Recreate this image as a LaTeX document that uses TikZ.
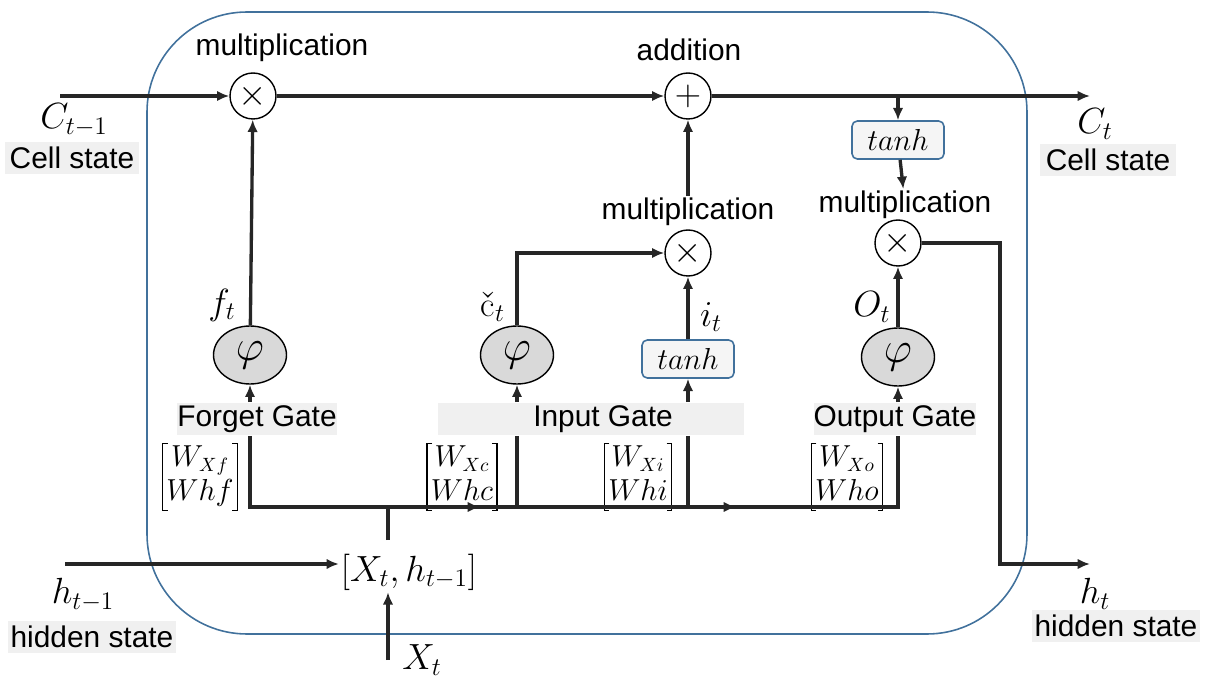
\documentclass[tikz,border=0pt]{standalone}
\usepackage{amsmath}
\usepackage{fontspec}
\newfontfamily\sansfont{Liberation Sans}
\usepackage{tikz}
\usetikzlibrary{shapes.geometric,arrows.meta,calc}
\definecolor{cellblue}{RGB}{65,113,156}

\tikzset{
    wire/.style={line width=1.9pt, draw=black!85},
    op/.style={circle, draw, line width=0.8pt, minimum size=0.92cm, inner sep=0pt, font=\fontsize{20}{20}\selectfont},
    act/.style={ellipse, draw, line width=0.8pt, fill=gray!30, minimum width=1.46cm, minimum height=1.16cm, inner sep=0pt, font=\fontsize{26}{26}\selectfont},
    tanhbox/.style={rectangle, rounded corners=3pt, draw=cellblue, line width=0.9pt, fill=gray!8, minimum width=1.84cm, minimum height=0.76cm, inner sep=0pt, font=\fontsize{19}{19}\selectfont},
    lbl/.style={inner sep=1pt, font=\sansfont\fontsize{17}{17}\selectfont},
    tag/.style={fill=gray!12, inner sep=0pt, minimum height=0.66cm, font=\sansfont\fontsize{17}{17}\selectfont},
    mlbl/.style={inner sep=1pt, font=\fontsize{20}{24}\selectfont},
    % weight pair with square brackets drawn as paths
    wmat/.style={inner xsep=2pt, inner ysep=0pt, font=\fontsize{16}{19}\selectfont,
        append after command={\pgfextra{
            \draw[line width=0.7pt] ($(\tikzlastnode.north west)+(5,0)$) -- (\tikzlastnode.north west)
                -- (\tikzlastnode.south west) -- ($(\tikzlastnode.south west)+(5,0)$);
            \draw[line width=0.7pt] ($(\tikzlastnode.north east)+(-5,0)$) -- (\tikzlastnode.north east)
                -- (\tikzlastnode.south east) -- ($(\tikzlastnode.south east)+(-5,0)$);}}}
}

\begin{document}
\begin{tikzpicture}[x=0.02cm, y=-0.02cm, >={Latex[length=7pt,width=6pt]}]
    \useasboundingbox (0,0) rectangle (1205,679);

    % LSTM cell frame
    \draw[cellblue, line width=0.9pt, rounded corners=2cm] (147,12) rectangle (1027,634);

    % Cell state line
    \coordinate (cin) at (60,96);
    \coordinate (tap) at (898,96);
    \coordinate (cout) at (1090,96);
    \node[op] (multF) at (253,96) {$\times$};
    \node[op] (add) at (688,96) {$+$};
    \node[lbl] (multFlab) at (282,48) {multiplication};
    \node[lbl] (addlab) at (689,50) {addition};
    \draw[wire,->] (cin) -- (multF);
    \draw[wire,->] (multF) -- (add);
    \draw[wire,->] (add) -- (cout);

    \node[mlbl] (cprev) at (74,120) {$C_{t-1}$};
    \node[tag, minimum width=2.7cm] (cprevtag) at (72,158) {Cell state};
    \node[mlbl] (cnext) at (1095,124) {$C_t$};
    \node[tag, minimum width=2.74cm] (cnexttag) at (1108,160) {Cell state};

    % Forget gate
    \node[act] (phiF) at (250,355) {$\varphi$};
    \node[mlbl] (flab) at (222,305) {$f_t$};
    \node[tag, minimum width=3.2cm] (gateF) at (257,419) {Forget Gate};
    \node[wmat] (wF) at (200,477) {$\begin{matrix} W_{Xf}\\ Whf\end{matrix}$};
    \draw[wire,->] (phiF) -- (multF);
    \draw[wire,->] (gateF.north -| phiF) -- (phiF);

    % Input gate
    \node[act] (phiC) at (517,355) {$\varphi$};
    \node[mlbl] (clab) at (493,307) {\v{c}$_t$};
    \node[tanhbox] (tanhI) at (688,359) {$tanh$};
    \node[mlbl] (ilab) at (711,317) {$i_t$};
    \node[op] (multI) at (688,253) {$\times$};
    \node[lbl] (multIlab) at (688,212) {multiplication};
    \node[tag, minimum width=6.14cm] (gateI) at (591,419) {\hspace*{0.48cm}Input Gate};
    \node[wmat] (wC) at (462,477) {$\begin{matrix} W_{Xc}\\ Whc\end{matrix}$};
    \node[wmat] (wI) at (638,477) {$\begin{matrix} W_{Xi}\\ Whi\end{matrix}$};
    \draw[wire,->] (phiC) |- (multI);
    \draw[wire,->] (tanhI) -- (multI);
    \draw[wire,->] (multIlab) -- (add);
    \draw[wire,->] (gateI.north -| phiC) -- (phiC);
    \draw[wire,->] (gateI.north -| tanhI) -- (tanhI);

    % Output gate
    \node[tanhbox] (tanhC) at (898,140) {$tanh$};
    \node[lbl] (multOlab) at (905,205) {multiplication};
    \node[op] (multO) at (898,243) {$\times$};
    \node[act] (phiO) at (898,357) {$\varphi$};
    \node[mlbl] (olab) at (872,307) {$O_t$};
    \node[tag, minimum width=3.18cm] (gateO) at (895,419) {Output Gate};
    \node[wmat] (wO) at (847,477) {$\begin{matrix} W_{Xo}\\ Who\end{matrix}$};
    \draw[wire,->] (tap) -- (tanhC);
    \draw[wire,->] (tanhC) -- (multOlab);
    \draw[wire,->] (phiO) -- (multO);
    \draw[wire,->] (gateO.north -| phiO) -- (phiO);

    % Hidden state output
    \coordinate (hturn) at (1000,564);
    \coordinate (hout) at (1090,564);
    \draw[wire,->] (multO) -| (hturn) -- (hout);
    \node[mlbl] (hnext) at (1095,594) {$h_t$};
    \node[tag, minimum width=3.36cm] (hnexttag) at (1116,626) {hidden state};

    % Weight bus
    \coordinate (busL) at (250,507);
    \coordinate (busR) at (898,507);
    \draw[wire] (gateF.south -| phiF) -- (busL) -- (busR) -- (gateO.south -| phiO);
    \draw[wire] (gateI.south -| phiC) -- (phiC |- busL);
    \draw[wire] (gateI.south -| tanhI) -- (tanhI |- busL);
    \draw[wire,->] (busL) -- ($(busL)!0.355!(busR)$);
    \draw[wire,->] (busL) -- ($(busL)!0.75!(busR)$);

    % Concatenated input
    \node[mlbl] (cat) at (409,572) {$[X_t, h_{t-1}]$};
    \coordinate (catin) at (388,540);
    \coordinate (hin) at (65,564);
    \coordinate (xin) at (388,660);
    \draw[wire] (catin) -- (catin |- busL);
    \draw[wire,->] (hin) -- (hin -| cat.west);
    \draw[wire,->] (xin) -- (cat.south -| xin);
    \node[mlbl] (hprev) at (83,595) {$h_{t-1}$};
    \node[tag, minimum width=3.38cm] (hprevtag) at (92,637) {hidden state};
    \node[mlbl] (xlab) at (422,660) {$X_t$};
\end{tikzpicture}
\end{document}
